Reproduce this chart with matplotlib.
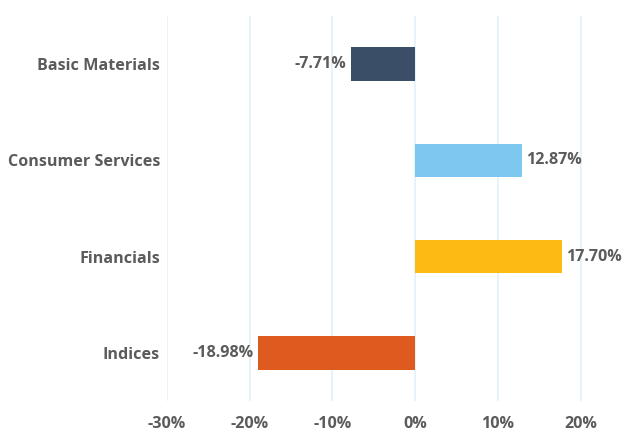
import matplotlib.pyplot as plt
from matplotlib.ticker import FuncFormatter

categories = ['Basic Materials', 'Consumer Services', 'Financials', 'Indices']
values = [-7.71, 12.87, 17.70, -18.98]
colors = ['#3A4E68', '#7DC8F0', '#FDBA12', '#DE5A1F']

plt.rcParams['font.family'] = ['Open Sans', 'DejaVu Sans']
text_color = '#5B5B5B'
fs = 11.6

fig = plt.figure(figsize=(6.24, 4.34), dpi=100)
ax = fig.add_axes([167 / 624, 33 / 434, 455 / 624, 385 / 434])

pos = list(range(len(categories)))
bars = ax.barh(pos, values, height=0.35, color=colors, zorder=3)

# 数值标签
for b, v in zip(bars, values):
    y = b.get_y() + b.get_height() / 2
    if v < 0:
        ax.annotate(f'{v:.2f}%', (v, y), xytext=(-3.5, 0), textcoords='offset points',
                    ha='right', va='center', fontsize=fs, fontweight='bold', color=text_color)
    else:
        ax.annotate(f'{v:.2f}%', (v, y), xytext=(3.5, 0), textcoords='offset points',
                    ha='left', va='center', fontsize=fs, fontweight='bold', color=text_color)

ax.set_xlim(-30, 25)
ax.set_ylim(3.5, -0.5)
ax.set_xticks([-30, -20, -10, 0, 10, 20])
ax.xaxis.set_major_formatter(FuncFormatter(lambda x, p: f'{x:.0f}%'))
ax.set_yticks(pos)
ax.set_yticklabels(categories)
ax.tick_params(axis='both', length=0, labelsize=fs, labelcolor=text_color)
ax.tick_params(axis='x', pad=11)
ax.tick_params(axis='y', pad=5)
for lbl in ax.get_xticklabels() + ax.get_yticklabels():
    lbl.set_fontweight('bold')

ax.grid(axis='x', color='#E3F1FB', linewidth=1.2, zorder=0)
ax.grid(axis='y', visible=False)
for s in ax.spines.values():
    s.set_visible(False)

fig.savefig('out.png', dpi=100)
